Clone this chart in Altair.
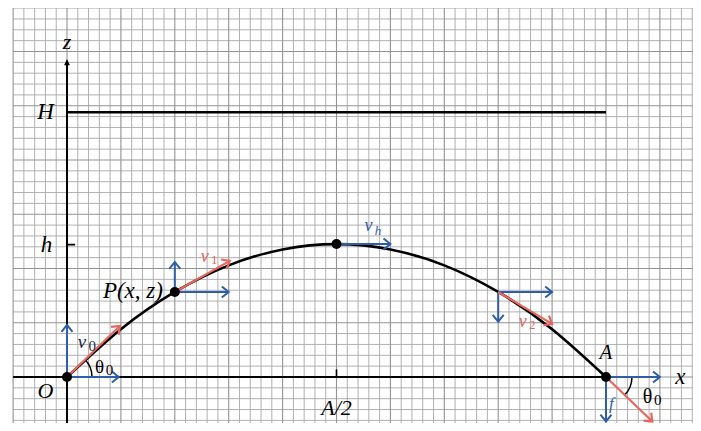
import altair as alt
import pandas as pd
import numpy as np

# ---- scene extent in grid squares (1 unit = one small square of the paper)
W, H_PX = 685, 415
SX, SZ = 10.78, 10.85            # px per square
X_MIN = -(67 - 8) / SX
X_MAX = X_MIN + W / SX
Z_MAX = (377 - 8) / SZ
Z_MIN = Z_MAX - H_PX / SZ

# ---- key values
A_RANGE = 50          # landing point A
H_CEIL = 24.4         # line H
h_PEAK = 12.2         # tick h

# ---- trajectory
traj_x = [0, 5, 10, 15, 20, 25, 30, 35, 40, 45, 50]
traj_z = [0, 4.41, 7.84, 10.29, 11.76, 12.25, 11.76, 10.29, 7.84, 4.41, 0]

# ---- dots: O, P, top, A
dot_x = [0, 10, 25, 50]
dot_z = [0, 7.84, 12.25, 0]

# ---- blue component arrows (start -> end)
blue_x0 = [0, 0, 10, 10, 25, 40, 40, 50, 50]
blue_z0 = [0, 0, 7.84, 7.84, 12.25, 7.84, 7.84, 0, 0]
blue_x1 = [0, 4.8, 10, 15, 30, 45, 40, 55, 50]
blue_z1 = [4.8, 0, 10.6, 7.84, 12.25, 7.84, 5.1, 0, -4.1]

# ---- red velocity arrows
red_x0 = [0, 10, 40, 50]
red_z0 = [0, 7.84, 7.84, 0]
red_x1 = [4.9, 15.1, 45, 54.3]
red_z1 = [4.7, 10.7, 4.9, -4.1]

BLUE = "#2f5ea8"
RED = "#e8665c"
NAVY = "#1f2a4a"
FONT = "Liberation Serif"

xs = alt.Scale(domain=[X_MIN, X_MAX], nice=False, zero=False)
zs = alt.Scale(domain=[Z_MIN, Z_MAX], nice=False, zero=False)


def X(f="x"):
    return alt.X(f"{f}:Q", scale=xs, axis=None)


def Z(f="z"):
    return alt.Y(f"{f}:Q", scale=zs, axis=None)


# ---- graph paper
gx = list(range(-5, 59))
gz = list(range(-4, 35))
gv = pd.DataFrame({"x": gx, "major": [(v % 5 == 0) for v in gx]})
gh = pd.DataFrame({"z": gz, "major": [(v % 5 == 0) for v in gz],
                   "x": [-5] * len(gz), "x2": [X_MAX] * len(gz)})


def vgrid(df, c, w):
    return alt.Chart(df).mark_rule(color=c, strokeWidth=w).encode(x=X())


def hgrid(df, c, w):
    return alt.Chart(df).mark_rule(color=c, strokeWidth=w).encode(x=X(), x2="x2:Q", y=Z())


grid = (vgrid(gv[~gv.major], "#a8a8a8", 0.9) + hgrid(gh[~gh.major], "#a8a8a8", 0.9)
        + vgrid(gv[gv.major], "#939393", 1.1) + hgrid(gh[gh.major], "#939393", 1.1))

# ---- axes and reference lines
axes_df = pd.DataFrame({
    "x": [-5.0, 0, 0, 0, 25],
    "z": [0, Z_MIN, H_CEIL, h_PEAK, 0],
    "x2": [55.0, 0, A_RANGE, 0.75, 25],
    "z2": [0, 29.0, H_CEIL, h_PEAK, 0.7],
    "w": [2.0, 2.0, 2.6, 1.8, 1.6],
})
axes = alt.Chart(axes_df).mark_rule(color="black").encode(
    x=X(), y=Z(), x2="x2:Q", y2="z2:Q",
    strokeWidth=alt.StrokeWidth("w:Q", scale=None),
)

z_head = alt.Chart(pd.DataFrame({"x": [0], "z": [29.3], "a": [270]})).mark_point(
    shape="M 0 0 L -1.6 -0.75 L -1.6 0.75 Z", filled=True, color="black", opacity=1, size=60
).encode(x=X(), y=Z(), angle=alt.Angle("a:Q", scale=None))

# ---- trajectory
traj = alt.Chart(pd.DataFrame({"x": traj_x, "z": traj_z})).mark_line(
    color="black", strokeWidth=2.6, interpolate="natural"
).encode(x=X(), y=Z())


def arrows(x0, z0, x1, z1, color, width):
    df = pd.DataFrame({"x": x0, "z": z0, "x2": x1, "z2": z1})
    df["a"] = np.degrees(np.arctan2(-(df.z2 - df.z) * SZ, (df.x2 - df.x) * SX)) % 360
    shaft = alt.Chart(df).mark_rule(color=color, strokeWidth=width).encode(
        x=X(), y=Z(), x2="x2:Q", y2="z2:Q"
    )
    head = alt.Chart(df).mark_point(
        shape="M -1 -0.8 L 0 0 L -1 0.8", filled=False, color=color,
        strokeWidth=width, opacity=1, size=190
    ).encode(x=X("x2"), y=Z("z2"), angle=alt.Angle("a:Q", scale=None))
    return shaft + head


blue_arrows = arrows(blue_x0, blue_z0, blue_x1, blue_z1, BLUE, 2.0)
red_arrows = arrows(red_x0, red_z0, red_x1, red_z1, RED, 2.2)

dots = alt.Chart(pd.DataFrame({"x": dot_x, "z": dot_z})).mark_point(
    filled=True, color="black", opacity=1, size=100
).encode(x=X(), y=Z())

# ---- angle arcs
arc_o = alt.Chart(pd.DataFrame({"x": [0], "z": [0]})).mark_point(
    shape="M 1 0 A 1 1 0 0 0 0.7071 -0.7071", filled=False, color="black",
    strokeWidth=1.5, opacity=1, size=2500
).encode(x=X(), y=Z())
arc_a = alt.Chart(pd.DataFrame({"x": [A_RANGE], "z": [0]})).mark_point(
    shape="M 1 0 A 1 1 0 0 1 0.7071 0.7071", filled=False, color="black",
    strokeWidth=1.5, opacity=1, size=2700
).encode(x=X(), y=Z())

# ---- labels
labels = [
    # text, x, z, color, size, style, align
    ("z", 0, 30.9, "black", 22, "italic", "center"),
    ("H", -2.0, 24.4, "black", 23, "italic", "center"),
    ("h", -1.9, 12.2, "black", 23, "italic", "center"),
    ("O", -2.0, -1.3, "black", 22, "italic", "center"),
    ("A/2", 25, -2.85, "black", 22, "italic", "center"),
    ("x", 56.9, 0.0, "black", 23, "italic", "center"),
    ("A", 50, 2.2, "black", 21, "italic", "center"),
    ("P(x, z)", 8.9, 7.9, "black", 23, "italic", "right"),
    # velocity symbols and their subscripts
    ("v", 1.0, 3.2, NAVY, 19, "italic", "left"),
    ("0", 2.0, 2.9, NAVY, 15, "normal", "left"),
    ("θ", 2.6, 0.9, "black", 19, "normal", "left"),
    ("0", 3.6, 0.6, "black", 15, "normal", "left"),
    ("v", 12.4, 11.1, RED, 18, "italic", "left"),
    ("1", 13.35, 10.8, RED, 13, "normal", "left"),
    ("v", 27.6, 13.9, BLUE, 18, "italic", "left"),
    ("h", 28.55, 13.5, BLUE, 13, "italic", "left"),
    ("v", 41.9, 5.1, RED, 18, "italic", "left"),
    ("2", 42.85, 4.8, RED, 13, "normal", "left"),
    ("f", 50.5, -2.5, BLUE, 17, "italic", "center"),
    ("θ", 53.4, -1.8, "black", 20, "normal", "left"),
    ("0", 54.45, -2.1, "black", 15, "normal", "left"),
]
text_layers = []
for t, lx, lz, c, s, st, al in labels:
    text_layers.append(
        alt.Chart(pd.DataFrame({"x": [lx], "z": [lz], "t": [t]})).mark_text(
            font=FONT, fontSize=s, fontStyle=st, color=c, align=al, baseline="middle"
        ).encode(x=X(), y=Z(), text="t:N")
    )

chart = alt.layer(
    grid, axes, z_head, traj, arc_o, arc_a,
    blue_arrows, red_arrows, dots, *text_layers
).properties(
    width=W, height=H_PX, padding=0, autosize=alt.AutoSizeParams(type="none"),
    background="white"
).configure_view(stroke=None)

chart.save("out.html", embed_options={"renderer": "svg", "actions": False})
